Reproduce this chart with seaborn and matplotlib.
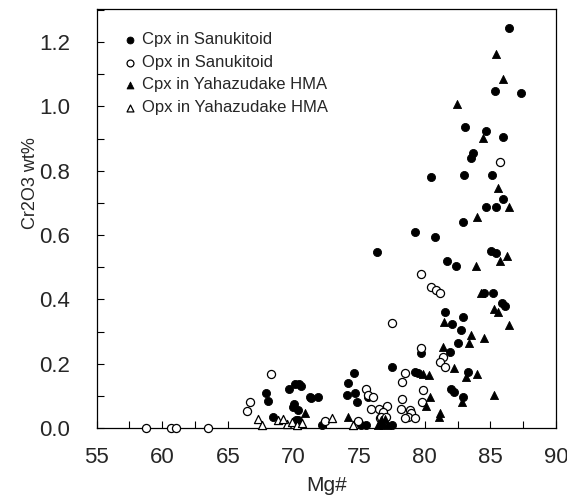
import numpy as np
import pandas as pd
import matplotlib
matplotlib.use("Agg")
import matplotlib.pyplot as plt
from matplotlib.ticker import MultipleLocator
import seaborn as sns

# ---- data ----
cpx_s_mg = [86.43, 85.39, 87.32, 83.05, 84.67, 85.97, 83.68, 83.5, 80.51, 83.03, 85.13, 85.97,
            84.70, 85.41, 82.92, 80.77, 79.27, 76.4, 85.03, 85.46, 81.66, 82.37, 84.5, 85.2,
            85.9, 86.1, 81.53, 82.08, 82.92, 82.77, 82.54, 81.91, 79.75, 83.3, 82.04, 82.2,
            82.92, 77.47, 74.6, 79.24, 79.5, 74.16, 69.67, 70.1, 70.43, 70.6, 74.04, 74.67,
            75.69, 71.37, 71.83, 74.85, 70.03, 69.93, 70.35, 70.18, 72.14, 75.18, 75.51, 76.7,
            77.47, 67.9, 68.07, 68.45, 70.35, 71.25]
cpx_s_cr = [1.243, 1.049, 1.043, 0.935, 0.924, 0.904, 0.854, 0.841, 0.782, 0.787, 0.786, 0.712,
            0.688, 0.688, 0.640, 0.593, 0.609, 0.548, 0.551, 0.545, 0.520, 0.504, 0.421, 0.421,
            0.39, 0.38, 0.362, 0.323, 0.344, 0.305, 0.263, 0.237, 0.232, 0.173, 0.121, 0.112,
            0.097, 0.191, 0.170, 0.175, 0.170, 0.141, 0.120, 0.137, 0.137, 0.131, 0.103, 0.110,
            0.097, 0.092, 0.097, 0.082, 0.075, 0.064, 0.056, 0.025, 0.009, 0.009, 0.009, 0.009,
            0.009, 0.110, 0.084, 0.035, 0.025, 0.095]

opx_s_mg = [58.75, 60.63, 61.04, 63.5, 66.42, 66.67, 68.3, 72.39, 74.92, 75.56, 75.69, 76.07,
            76.58, 77.13, 76.52, 75.94, 76.83, 76.63, 77.03, 78.23, 78.86, 78.94, 78.73, 78.48,
            79.24, 78.3, 78.48, 78.3, 77.47, 79.75, 80.51, 80.84, 81.2, 79.75, 81.4, 81.15,
            81.58, 79.87, 79.83, 85.72]
opx_s_cr = [0.0, 0.0, 0.0, 0.0, 0.053, 0.082, 0.167, 0.023, 0.023, 0.120, 0.103, 0.097,
            0.030, 0.068, 0.059, 0.059, 0.051, 0.033, 0.033, 0.059, 0.056, 0.048, 0.033, 0.030,
            0.030, 0.089, 0.170, 0.144, 0.328, 0.478, 0.438, 0.429, 0.419, 0.248, 0.220, 0.206,
            0.191, 0.118, 0.080, 0.828]

cpx_y_mg = [85.41, 85.97, 82.49, 84.45, 85.59, 86.43, 83.99, 85.72, 86.3, 83.94, 84.27, 85.3,
            85.6, 81.45, 86.43, 83.56, 84.5, 83.38, 81.4, 82.24, 83.13, 83.99, 79.87, 80.3,
            82.87, 85.26, 80.38, 80.13, 81.15, 81.1, 70.86, 74.17, 76.45, 77.09, 76.7, 76.95]
cpx_y_cr = [1.162, 1.086, 1.007, 0.903, 0.747, 0.686, 0.657, 0.520, 0.535, 0.504, 0.421, 0.37,
            0.36, 0.331, 0.320, 0.289, 0.279, 0.265, 0.253, 0.186, 0.158, 0.168, 0.167, 0.165,
            0.080, 0.103, 0.095, 0.069, 0.046, 0.035, 0.048, 0.033, 0.009, 0.009, 0.025, 0.027]

opx_y_mg = [67.3, 67.57, 68.83, 69.52, 69.85, 70.23, 70.61, 69.2, 72.9, 74.5]
opx_y_cr = [0.027, 0.009, 0.025, 0.012, 0.020, 0.009, 0.016, 0.027, 0.030, 0.010]

labels = ["Cpx in Sanukitoid", "Opx in Sanukitoid", "Cpx in Yahazudake HMA", "Opx in Yahazudake HMA"]

# ---- figure ----
sns.set_style("white")
plt.rcParams["font.family"] = ["Liberation Sans", "DejaVu Sans"]

fig = plt.figure(figsize=(5.67, 4.99), dpi=100)
ax = fig.add_axes([0.1705, 0.1423, 0.81, 0.8397])

S = 34
common = dict(s=S, ax=ax, zorder=3, clip_on=False)
sns.scatterplot(x=cpx_s_mg, y=cpx_s_cr, marker="o", color="black", edgecolor="black",
                linewidth=0.6, label=labels[0], **common)
sns.scatterplot(x=opx_s_mg, y=opx_s_cr, marker="o", facecolor="white", edgecolor="black",
                linewidth=0.9, label=labels[1], **common)
sns.scatterplot(x=cpx_y_mg, y=cpx_y_cr, marker="^", color="black", edgecolor="black",
                linewidth=0.6, label=labels[2], **common)
sns.scatterplot(x=opx_y_mg, y=opx_y_cr, marker="^", facecolor="white", edgecolor="black",
                linewidth=0.9, label=labels[3], **common)

ax.set_xlim(55, 90)
ax.set_ylim(0, 1.303)
ax.xaxis.set_major_locator(MultipleLocator(5))
ax.xaxis.set_minor_locator(MultipleLocator(2.5))
ax.yaxis.set_major_locator(MultipleLocator(0.2))
ax.yaxis.set_minor_locator(MultipleLocator(0.1))
ax.yaxis.set_major_formatter(matplotlib.ticker.FormatStrFormatter("%.1f"))
ax.tick_params(which="both", direction="in", length=5, width=0.8, color="black",
               left=True, bottom=True, top=False, right=False)
ax.tick_params(axis="x", which="major", labelsize=16, pad=14)
ax.tick_params(axis="y", which="major", labelsize=16, pad=19)

for sp in ax.spines.values():
    sp.set_color("black")
    sp.set_linewidth(0.9)
    sp.set_visible(True)

ax.set_xlabel("Mg#", fontsize=15)
ax.set_ylabel("Cr2O3 wt%", fontsize=13)
ax.xaxis.set_label_coords(0.5, -0.115)
ax.yaxis.set_label_coords(-0.125, 0.585)

leg = ax.legend(loc="upper left", bbox_to_anchor=(0.036, 0.96), frameon=False, fontsize=12,
                handletextpad=0.1, labelspacing=0.45, markerscale=0.85, borderaxespad=0,
                handlelength=1.2)

fig.savefig("out.png", dpi=100)
